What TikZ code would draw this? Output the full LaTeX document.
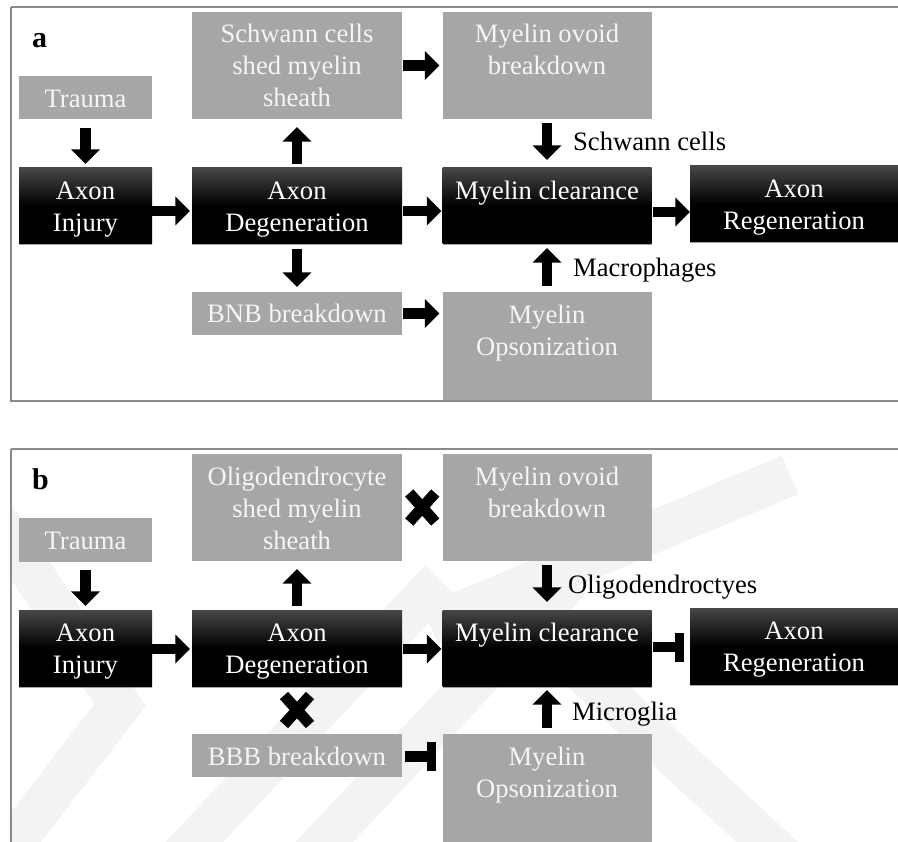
\documentclass[tikz,border=0pt]{standalone}
\usepackage{fontspec}
\setmainfont{Liberation Serif}
\usetikzlibrary{arrows.meta,shadows,calc}
\definecolor{boxgray}{HTML}{A6A6A6}
\definecolor{framegray}{HTML}{8A8A8A}
\definecolor{wmgray}{HTML}{F3F3F3}
\newcommand\myTS{\rule{0pt}{31pt}}
\newcommand\myBS{\rule[-12pt]{0pt}{12pt}}
\begin{document}
\begin{tikzpicture}[x=1pt,y=-1pt,
  boxtext/.style={inner sep=0pt,align=center,font=\fontsize{26.6}{32}\selectfont},
  gbox/.style={boxtext,fill=boxgray,text=white!96!black},
  bbox/.style={boxtext,top color=black!72,bottom color=black,middle color=black,text=white,
    drop shadow={shadow xshift=0pt,shadow yshift=-1.5pt,opacity=0.35,fill=black}},
  lbl/.style={inner sep=0pt,anchor=base west,font=\fontsize{26.6}{32}\selectfont},
  panel/.style={inner sep=0pt,anchor=base west,font=\fontsize{30}{36}\selectfont\bfseries},
  arr/.style={line width=10.5pt,-{Triangle[width=28.5pt,length=14.5pt]}},
  tbar/.style={line width=10.5pt,-{Rectangle[width=29pt,length=9pt]}},
  xmark/.style={line width=11pt},
  frame/.style={draw=framegray,line width=1.5pt},
  wm/.style={draw=wmgray,line width=42pt}
]
\useasboundingbox (0,0) rectangle (898,842);

% ---------------- panel a ----------------
\draw[frame] (11,7) -- (901,7) (11,7) -- (11,401) -- (901,401);
\node[panel] (a-lab) at (32,48) {a};

\node[gbox,minimum width=133pt,minimum height=42pt] (a-trauma) at (85.5,98) {\myTS Trauma\myBS};
\node[bbox,minimum width=133pt,minimum height=76pt] (a-inj) at (85.5,206) {\myTS Axon\\Injury\myBS};
\node[bbox,minimum width=210pt,minimum height=76pt] (a-deg) at (297,206) {\myTS Axon\\Degeneration\myBS};
\node[gbox,minimum width=210pt,minimum height=107pt] (a-shed) at (297,65.5) {\myTS Schwann cells\\shed myelin\\sheath\myBS};
\node[gbox,minimum width=210pt,minimum height=43pt] (a-bnb) at (297,313.5) {\myTS BNB breakdown\myBS};
\node[gbox,minimum width=209pt,minimum height=107pt] (a-ovoid) at (547,65.5) {\myTS Myelin ovoid\\breakdown\\\myBS};
\node[bbox,minimum width=209pt,minimum height=76pt] (a-clear) at (547,206) {\myTS Myelin clearance\\\myBS};
\node[gbox,minimum width=209pt,minimum height=108pt] (a-ops) at (547,346) {\myTS Myelin\\Opsonization\\\myBS};
\node[bbox,minimum width=208pt,minimum height=76pt] (a-regen) at (794,204) {\myTS Axon\\Regeneration\myBS};

\draw[arr,shorten <=8pt,shorten >=4pt] (a-trauma) -- (a-inj);
\draw[arr,shorten >=2pt] ([yshift=-5pt]a-inj.east) -- ([yshift=-5pt]a-inj.east -| a-deg.west);
\draw[arr,shorten <=4pt,shorten >=8pt] (a-deg) -- (a-shed);
\draw[arr,shorten <=5pt,shorten >=5pt] (a-deg) -- (a-bnb);
\draw[arr,shorten <=1pt,shorten >=3pt] (a-shed) -- (a-ovoid);
\draw[arr,shorten <=1pt,shorten >=1pt] ([yshift=-5pt]a-deg.east) -- ([yshift=-5pt]a-deg.east -| a-clear.west);
\draw[arr,shorten <=1pt,shorten >=3pt] (a-bnb.east) -- (a-bnb.east -| a-ops.west);
\draw[arr,shorten <=4pt,shorten >=8pt] (a-ovoid) -- (a-clear);
\draw[arr,shorten <=6pt,shorten >=4pt] (a-ops) -- (a-clear);
\draw[arr,shorten <=1pt,shorten >=0pt] ([yshift=-6pt]a-clear.east) -- ([yshift=-6pt]a-clear.east -| a-regen.west);

\node[lbl] (a-lsc) at (573,151) {Schwann cells};
\node[lbl] (a-lmac) at (573,277) {Macrophages};

% ---------------- panel b ----------------
\begin{scope}
  \clip (11,449) rectangle (901,845);
  \draw[wm] (-30,480) -- (120,705) -- (-30,900);
  \draw[wm] (140,900) -- (440,580);
  \draw[wm] (270,900) -- (570,580);
  \draw[wm] (430,625) -- (790,475);
  \draw[wm] (570,660) -- (830,900);
\end{scope}
\draw[frame] (11,449) -- (901,449) (11,449) -- (11,845);

\begin{scope}[shift={(0,442)}]
\node[panel] (b-lab) at (32,48) {b};

\node[gbox,minimum width=133pt,minimum height=42pt] (b-trauma) at (85.5,98) {\myTS Trauma\myBS};
\node[bbox,minimum width=133pt,minimum height=76pt] (b-inj) at (85.5,206) {\myTS Axon\\Injury\myBS};
\node[bbox,minimum width=210pt,minimum height=76pt] (b-deg) at (297,206) {\myTS Axon\\Degeneration\myBS};
\node[gbox,minimum width=210pt,minimum height=107pt] (b-shed) at (297,65.5) {\myTS Oligodendrocyte\\shed myelin\\sheath\myBS};
\node[gbox,minimum width=210pt,minimum height=43pt] (b-bbb) at (297,313.5) {\myTS BBB breakdown\myBS};
\node[gbox,minimum width=209pt,minimum height=107pt] (b-ovoid) at (547,65.5) {\myTS Myelin ovoid\\breakdown\\\myBS};
\node[bbox,minimum width=209pt,minimum height=76pt] (b-clear) at (547,206) {\myTS Myelin clearance\\\myBS};
\node[gbox,minimum width=209pt,minimum height=108pt] (b-ops) at (547,346) {\myTS Myelin\\Opsonization\\\myBS};
\node[bbox,minimum width=208pt,minimum height=76pt] (b-regen) at (794,204) {\myTS Axon\\Regeneration\myBS};

\draw[arr,shorten <=8pt,shorten >=4pt] (b-trauma) -- (b-inj);
\draw[arr,shorten >=2pt] ([yshift=-1pt]b-inj.east) -- ([yshift=-1pt]b-inj.east -| b-deg.west);
\draw[arr,shorten <=4pt,shorten >=8pt] (b-deg) -- (b-shed);
\draw[arr,shorten <=1pt,shorten >=1pt] ([yshift=-1pt]b-deg.east) -- ([yshift=-1pt]b-deg.east -| b-clear.west);
\draw[tbar,shorten <=3pt,shorten >=6pt] ([yshift=-1pt]b-bbb.east) -- ([yshift=-1pt]b-bbb.east -| b-ops.west);
\draw[arr,shorten <=4pt,shorten >=8pt] (b-ovoid) -- (b-clear);
\draw[arr,shorten <=6pt,shorten >=4pt] (b-ops) -- (b-clear);
\draw[tbar,shorten <=1pt,shorten >=6pt] ([yshift=1pt]b-clear.east) -- ([yshift=1pt]b-clear.east -| b-regen.west);

\coordinate (b-x1) at ($(b-shed.east)!0.5!(b-ovoid.west)$);
\coordinate (b-x2) at ($(b-deg.south)!0.5!(b-bbb.north)$);
\foreach \c in {b-x1,b-x2}{
  \draw[xmark] ($(\c)+(-13,-14.5)$) -- ($(\c)+(13,14.5)$);
  \draw[xmark] ($(\c)+(-13,14.5)$) -- ($(\c)+(13,-14.5)$);
}

\node[lbl] (b-lol) at (568,151) {Oligodendroctyes};
\node[lbl] (b-lmic) at (572,278) {Microglia};
\end{scope}
\end{tikzpicture}
\end{document}
